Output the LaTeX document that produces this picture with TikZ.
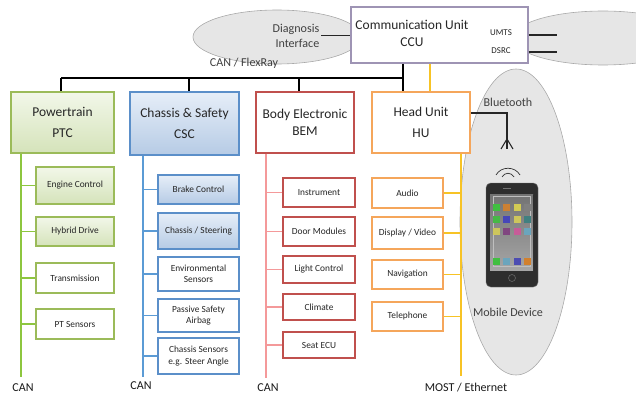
\documentclass[tikz,border=0pt]{standalone}
\usepackage{fontspec}
\setmainfont{Carlito}
\usepackage{tikz}
\usetikzlibrary{positioning,calc,shadows}
\definecolor{txtgray}{HTML}{262626}
\definecolor{ptline}{HTML}{9BBB59}
\definecolor{ptbusc}{HTML}{8DC63F}
\definecolor{pttop}{HTML}{F2F7E9}
\definecolor{ptbot}{HTML}{D5E3BA}
\definecolor{csline}{HTML}{5B8FC9}
\definecolor{csbusc}{HTML}{5B9BD5}
\definecolor{cstop}{HTML}{E6EEF8}
\definecolor{csbot}{HTML}{B6CBE5}
\definecolor{bmline}{HTML}{C0504D}
\definecolor{bmbusc}{HTML}{F4999A}
\definecolor{huline}{HTML}{F5A65B}
\definecolor{mostc}{HTML}{F7C325}
\definecolor{cculine}{HTML}{9E94B4}
\definecolor{zonefill}{HTML}{E6E6E6}
\definecolor{zoneline}{HTML}{A8A8A8}
\newcommand\ecufont{\fontsize{11.5}{18.5}\selectfont}
\newcommand\unitfont{\fontsize{8}{9.6}\selectfont}
\newcommand\lblfont{\fontsize{10.3}{12.8}\selectfont}
\tikzset{
  wire/.style    = {line width=0.9pt, black!85},
  bus/.style     = {line width=1.5pt, black},
  ptwire/.style  = {line width=1.4pt, ptbusc},
  cswire/.style  = {line width=1.4pt, csbusc},
  bmwire/.style  = {line width=1.2pt, bmbusc},
  most/.style    = {line width=1.4pt, mostc},
  zone/.style    = {draw=zoneline, fill=zonefill, line width=0.5pt},
  shade/.style   = {drop shadow={shadow xshift=0.8pt, shadow yshift=-0.8pt,
                    opacity=0.22, fill=black}},
  ecu/.style     = {shade, draw, fill=white, line width=0.9pt, align=center,
                    font=\ecufont, text=txtgray, minimum width=2.94cm,
                    minimum height=1.83cm, inner sep=1pt},
  unit/.style    = {shade, draw, fill=white, line width=0.9pt, align=center,
                    font=\unitfont, text=txtgray, minimum height=0.87cm,
                    inner sep=1pt},
  ptbox/.style   = {ecu, draw=ptline, top color=pttop, bottom color=ptbot,
                    minimum width=3.09cm},
  cscbox/.style  = {ecu, draw=csline, top color=cstop, bottom color=csbot,
                    minimum width=3.27cm, minimum height=1.89cm},
  bembox/.style  = {ecu, draw=bmline, font=\fontsize{11.5}{14}\selectfont},
  hubox/.style   = {ecu, draw=huline},
  ccubox/.style  = {shade, draw=cculine, fill=white, line width=0.9pt,
                    minimum width=5.31cm, minimum height=1.68cm},
  ccutext/.style = {align=center, font=\fontsize{11.5}{14.5}\selectfont,
                    text=txtgray, inner sep=1pt},
  ptunit/.style  = {unit, draw=ptline, minimum width=2.34cm},
  csunit/.style  = {unit, draw=csline, minimum width=2.43cm},
  bmunit/.style  = {unit, draw=bmline, minimum width=2.16cm},
  huunit/.style  = {unit, draw=huline, minimum width=2.13cm},
  ptfill/.style  = {top color=pttop, bottom color=ptbot},
  csfill/.style  = {top color=cstop, bottom color=csbot},
  lbl/.style     = {font=\lblfont, inner sep=1.5pt, text=black!90},
  lblg/.style    = {font=\lblfont, inner sep=1.5pt, text=black!75},
  tag/.style     = {font=\fontsize{7.6}{9}\selectfont, inner sep=1pt, text=txtgray},
}

\begin{document}
\begin{tikzpicture}[x=0.03cm,y=-0.03cm]
  \useasboundingbox (0,0) rectangle (636,394);
  \draw[zone] (277,37) ellipse [x radius=84, y radius=27];
  \draw[zone] (603,38) ellipse [x radius=90, y radius=27];
  \draw[zone] (516,222) ellipse [x radius=56, y radius=153];

  \node[ccubox] (ccu) at (439.5,35) {};
  \node[ccutext] (ccutxt) at (412,33.5) {Communication Unit\\CCU};
  \node[tag] (umts) at (501,33) {UMTS};
  \node[tag] (dsrc) at (501,51) {DSRC};
  \node[lblg, align=right] (diag) at (296,35.5) {Diagnosis\\Interface};
  \coordinate (umtsend) at (557,35);
  \coordinate (dsrcend) at (557,52);
  \draw[wire] (diag.east) -- (ccu.west |- diag.east);
  \draw[wire] (ccu.east |- umtsend) -- (umtsend);
  \draw[wire] (ccu.east |- dsrcend) -- (dsrcend);
  \node[lblg] (flexray) at (244,63) {CAN / FlexRay};

  \node[ptbox]  (ptc) at (62.5,122.5) {Powertrain\\PTC};
  \node[cscbox] (csc) at (184.5,123.5) {Chassis \& Safety\\CSC};
  \node[bembox] (bem) at (305,122.5) {Body Electronic\\BEM};
  \node[hubox]  (hu)  at (421,122.5) {Head Unit\\HU};

  \coordinate (j1) at (61,78);
  \coordinate (j2) at (189,78);
  \coordinate (j3) at (299,78);
  \coordinate (j4) at (403,78);
  \coordinate (m1) at (430,78);
  \draw[bus] (j1) -- (j4);
  \draw[bus] (j1) -- (j1 |- ptc.north);
  \draw[bus] (j2) -- (j2 |- csc.north);
  \draw[bus] (j3) -- (j3 |- bem.north);
  \draw[bus, line width=2.2pt] (j4 |- ccu.south) -- (j4 |- hu.north);
  \draw[most] (m1 |- ccu.south) -- (m1 |- hu.north);

  \node[ptunit, ptfill, minimum height=1.11cm] (pt1) at (75,185.5) {Engine Control};
  \node[ptunit, ptfill] (pt2) at (75,231.5) {Hybrid Drive};
  \node[ptunit, minimum height=0.9cm] (pt3) at (75,278) {Transmission};
  \node[ptunit, minimum height=0.9cm] (pt4) at (75,324) {PT Sensors};

  \node[csunit, csfill] (cs1) at (198.5,189.5) {Brake Control};
  \node[csunit, csfill, minimum height=1.08cm] (cs2) at (198.5,231) {Chassis / Steering};
  \node[csunit, minimum height=1.02cm] (cs3) at (198.5,274) {Environmental\\Sensors};
  \node[csunit, minimum height=0.99cm] (cs4) at (198.5,315.5) {Passive Safety\\Airbag};
  \node[csunit, minimum height=1.08cm] (cs5) at (198.5,356) {Chassis Sensors\\e.g. Steer Angle};

  \node[bmunit] (bm1) at (319,192.5) {Instrument};
  \node[bmunit] (bm2) at (319,231.5) {Door Modules};
  \node[bmunit, minimum height=0.81cm] (bm3) at (319,269.5) {Light Control};
  \node[bmunit, minimum height=0.78cm] (bm4) at (319,307) {Climate};
  \node[bmunit, minimum height=0.78cm] (bm5) at (319,345) {Seat ECU};

  \node[huunit, minimum height=0.9cm] (hu1) at (407.5,193) {Audio};
  \node[huunit, minimum height=0.96cm] (hu2) at (407.5,233) {Display / Video};
  \node[huunit] (hu3) at (407.5,274.5) {Navigation};
  \node[huunit] (hu4) at (407.5,316.5) {Telephone};

  \coordinate (ptbus) at (21,377);
  \coordinate (csbus) at (143,377);
  \coordinate (bmbus) at (266,378);
  \coordinate (mostbus) at (461,376);
  \draw[ptwire] (ptc.south -| ptbus) -- (ptbus);
  \draw[cswire] (csc.south -| csbus) -- (csbus);
  \draw[bmwire] (bem.south -| bmbus) -- (bmbus);
  \draw[most] (hu.south -| mostbus) -- (mostbus);
  \foreach \n in {pt1,pt2,pt3,pt4}
    \draw[ptwire] (ptbus |- \n.west) -- (\n.west);
  \foreach \n in {cs1,cs2,cs3,cs4,cs5}
    \draw[cswire] (csbus |- \n.west) -- (\n.west);
  \foreach \n in {bm1,bm2,bm3,bm4,bm5}
    \draw[bmwire] (bmbus |- \n.west) -- (\n.west);
  \foreach \n in {hu1,hu2,hu3,hu4}
    \draw[most] (\n.east) -- (mostbus |- \n.east);

  \node[lbl] (can1) at (23,388) {CAN};
  \node[lbl] (can2) at (141,386) {CAN};
  \node[lbl] (can3) at (268,388) {CAN};
  \node[lbl] (mostlbl) at (466,388) {MOST / Ethernet};

  % mobile device with its bluetooth link
  \node[lblg] (bt) at (508,102) {Bluetooth};
  \node[lblg] (mobile) at (508,312) {Mobile Device};
  \coordinate (ant) at (507,149);
  \draw[wire] (hu.east |- 0,113) -| (ant);
  \draw[wire] (ant) ++(-6,0) -- ++(6,-10) -- ++(6,10);
  \draw[black!80, line width=0.6pt] (502,177) .. controls (505,172) and (511,172) .. (514,177);
  \draw[black!80, line width=0.6pt] (496,175) .. controls (501,166) and (515,166) .. (520,175);
  \draw[fill=black!82, draw=black!55, rounded corners=4pt] (486,183) rectangle (538,287);
  \shade[top color=black!55, bottom color=black!35] (490,194) rectangle (533,270);
  \draw[white!75!black, line width=0.3pt] (493,196) rectangle (530,266);
  \foreach \y/\ca/\cb/\cc/\cd in {207/green!50!gray/orange!60!gray/yellow!60!gray/black!50,
      219/green!45!gray/blue!45!gray/yellow!55!gray/teal!50!gray,
      231/yellow!55!gray/violet!45!gray/magenta!55!gray/cyan!45!gray,
      261/green!50!gray/cyan!45!gray/blue!40!gray/orange!65!gray}
    \foreach \x/\c in {496/\ca, 506.5/\cb, 517/\cc, 527.5/\cd}
      \fill[\c] (\x-3.5,\y-3.5) rectangle ++(7,7);
  \draw[black!55, line width=0.5pt] (503,188) -- (511,188);
  \draw[black!60, line width=0.5pt] (512,278) circle [radius=3.5];
\end{tikzpicture}
\end{document}
